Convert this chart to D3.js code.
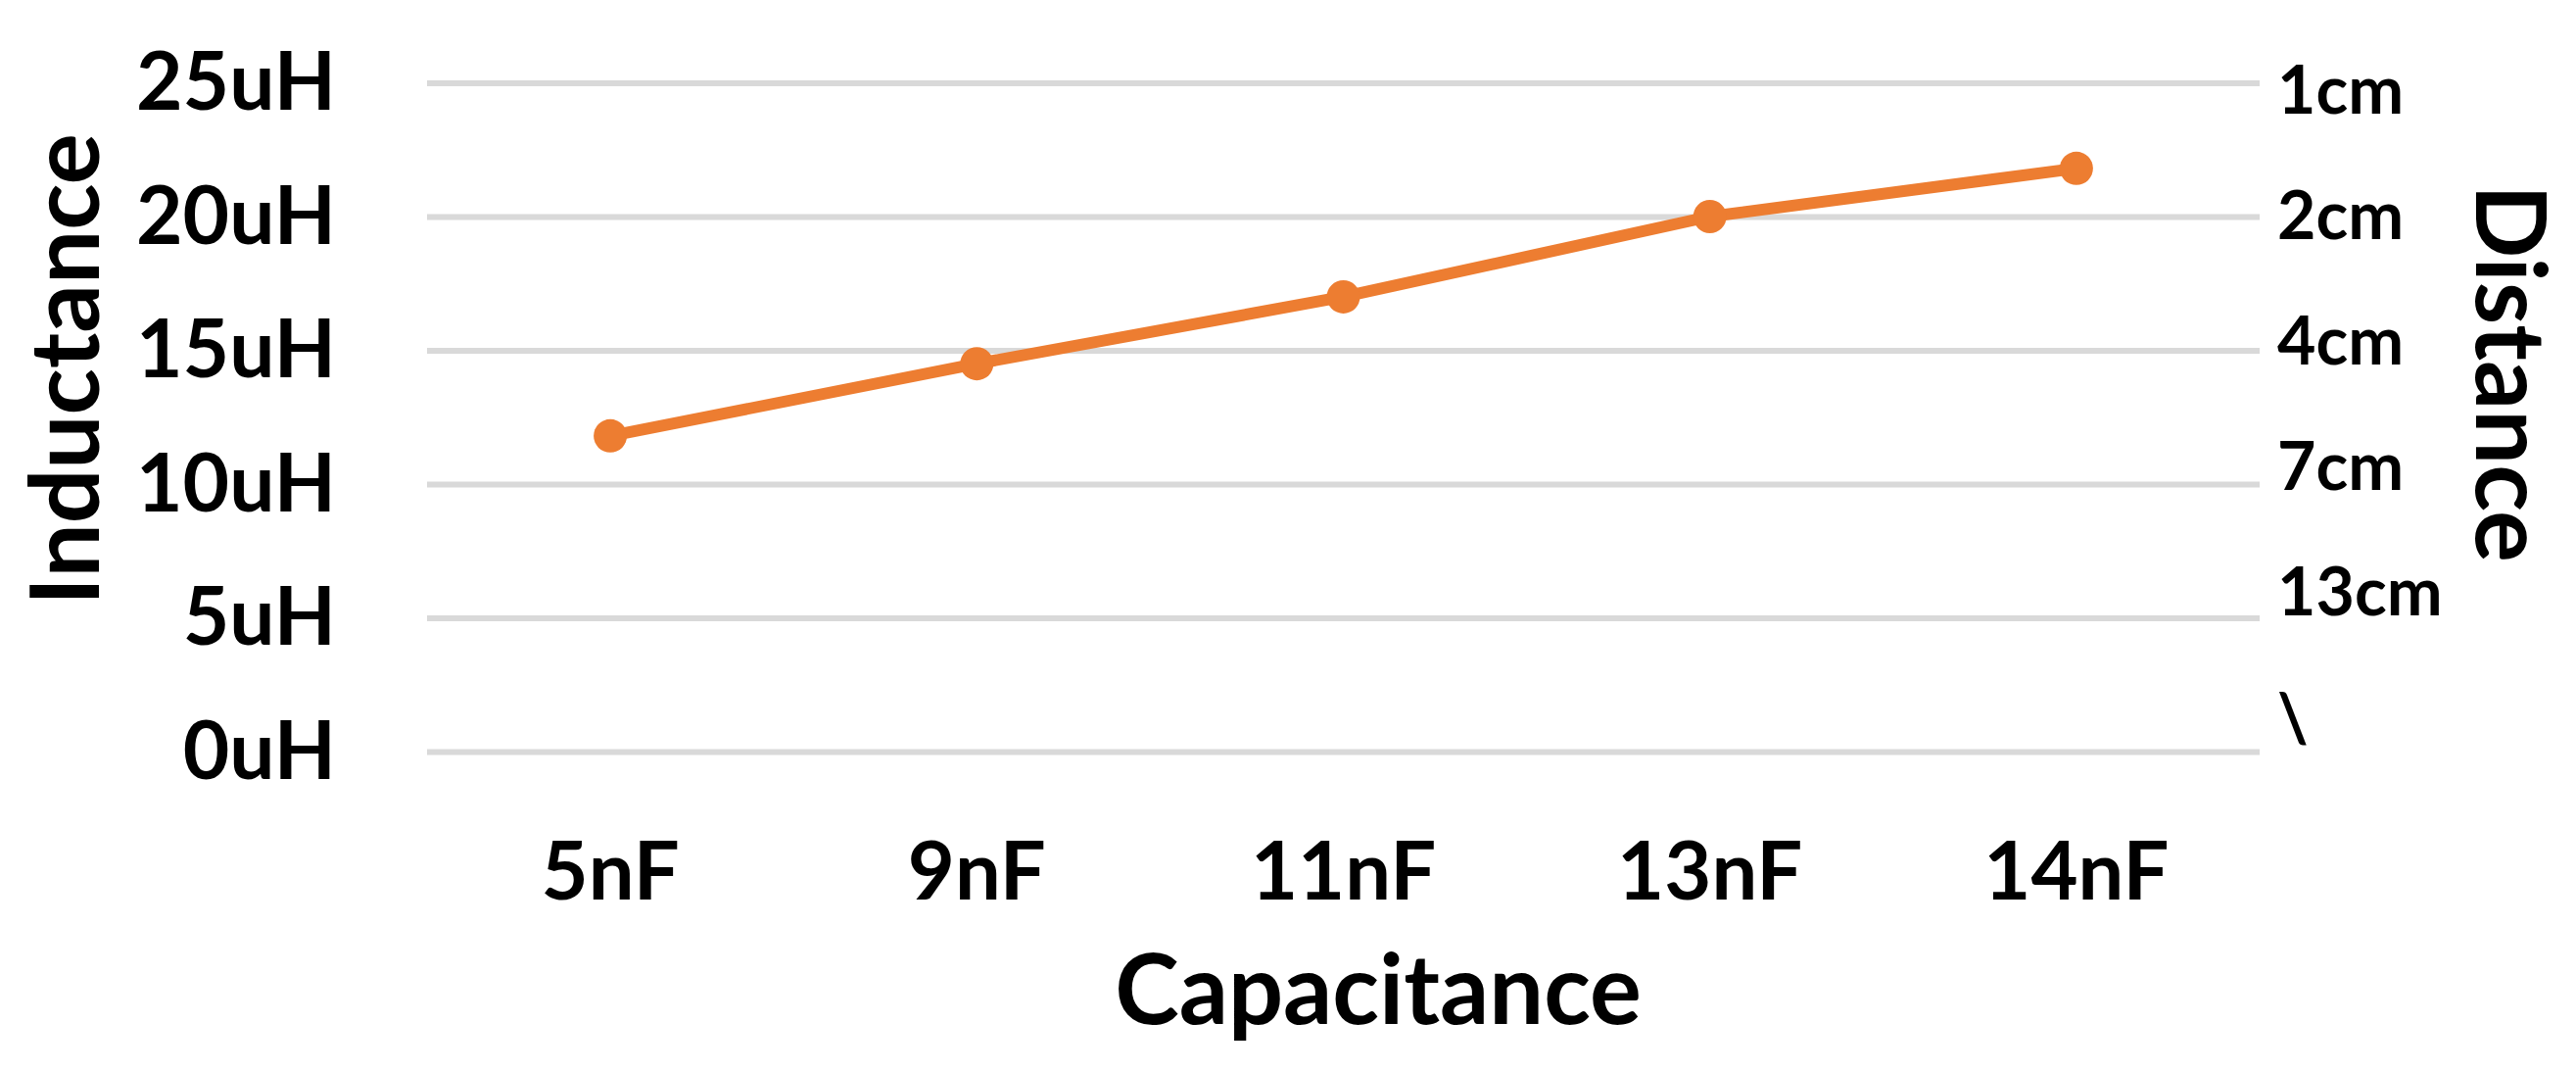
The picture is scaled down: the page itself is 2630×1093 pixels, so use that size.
<!DOCTYPE html>
<html>
<head>
<meta charset="utf-8">
<script src="https://cdn.jsdelivr.net/npm/d3@7"></script>
<style>
  html, body { margin: 0; padding: 0; background: #fff; }
  svg text { font-family: Lato, "Open Sans", sans-serif; font-weight: 700; fill: #000; }
</style>
</head>
<body>
<svg id="chart" width="2630" height="1093"></svg>
<script>
// categories on the x axis
var capacitance = ['5nF', '9nF', '11nF', '13nF', '14nF'];
// inductance (uH)
var inductance = [11.8, 14.5, 17.0, 20.0, 21.8];
// left axis ticks
var leftTicks = [0, 5, 10, 15, 20, 25];
// right axis labels, top to bottom
var distanceLabels = ['1cm', '2cm', '4cm', '7cm', '13cm', '\\'];

var svg = d3.select('#chart');
var width = 2630, height = 1093;

svg.append('rect').attr('width', width).attr('height', height).attr('fill', '#fff');

var plot = {left: 436, right: 2307, top: 84.5, bottom: 767};

var x = d3.scaleBand()
  .domain(capacitance)
  .range([plot.left, plot.right]);

var y = d3.scaleLinear()
  .domain([0, 25])
  .range([plot.bottom, plot.top]);

// secondary axis labels are spaced on their own
var y2 = d3.scalePoint()
  .domain(distanceLabels)
  .range([90, 731]);

//网格线
var grid = d3.axisLeft(y)
  .tickValues(leftTicks)
  .tickSize(-(plot.right - plot.left))
  .tickFormat('');

svg.append('g')
  .attr('transform', 'translate(' + plot.left + ',0)')
  .call(grid)
  .call(function(g) {
    g.select('.domain').remove();
    g.selectAll('line').attr('stroke', '#d9d9d9').attr('stroke-width', 6);
  });

// left tick labels
var leftAxis = d3.axisLeft(y)
  .tickValues(leftTicks)
  .tickSize(0)
  .tickPadding(0)
  .tickFormat(function(d) { return d + 'uH'; });

svg.append('g')
  .attr('transform', 'translate(343,0)')
  .call(leftAxis)
  .call(function(g) {
    g.select('.domain').remove();
    g.selectAll('text')
      .attr('font-size', 82)
      .attr('dy', null)
      .attr('y', 27)
      .attr('font-family', null);
  });

// right labels
var rightAxis = d3.axisRight(y2).tickSize(0).tickPadding(0);
svg.append('g')
  .attr('transform', 'translate(2325,0)')
  .call(rightAxis)
  .call(function(g) {
    g.select('.domain').remove();
    g.selectAll('text')
      .attr('font-size', 68)
      .attr('dy', null)
      .attr('y', 25)
      .attr('font-family', null);
  });

// x labels
var bottomAxis = d3.axisBottom(x).tickSize(0).tickPadding(0);
svg.append('g')
  .attr('transform', 'translate(0,918)')
  .call(bottomAxis)
  .call(function(g) {
    g.select('.domain').remove();
    g.selectAll('text')
      .attr('font-size', 83)
      .attr('dy', null)
      .attr('y', 0)
      .attr('font-family', null);
  });

// axis titles
svg.append('text')
  .attr('x', 1407).attr('y', 1045)
  .attr('text-anchor', 'middle')
  .attr('font-size', 99)
  .text('Capacitance');

svg.append('text')
  .attr('transform', 'translate(101,377) rotate(-90)')
  .attr('text-anchor', 'middle')
  .attr('font-size', 98)
  .text('Inductance');

svg.append('text')
  .attr('transform', 'translate(2528,381) rotate(90)')
  .attr('text-anchor', 'middle')
  .attr('font-size', 99)
  .text('Distance');

// the series
var cx = function(d, i) { return x(capacitance[i]) + x.bandwidth() / 2; };

var line = d3.line()
  .x(cx)
  .y(function(d) { return y(d); });

svg.append('path')
  .datum(inductance)
  .attr('d', line)
  .attr('fill', 'none')
  .attr('stroke', '#ed7d31')
  .attr('stroke-width', 12)
  .attr('stroke-linejoin', 'round');

svg.selectAll('circle.pt')
  .data(inductance)
  .enter().append('circle')
  .attr('class', 'pt')
  .attr('cx', cx)
  .attr('cy', function(d) { return y(d); })
  .attr('r', 17)
  .attr('fill', '#ed7d31');
</script>
</body>
</html>
